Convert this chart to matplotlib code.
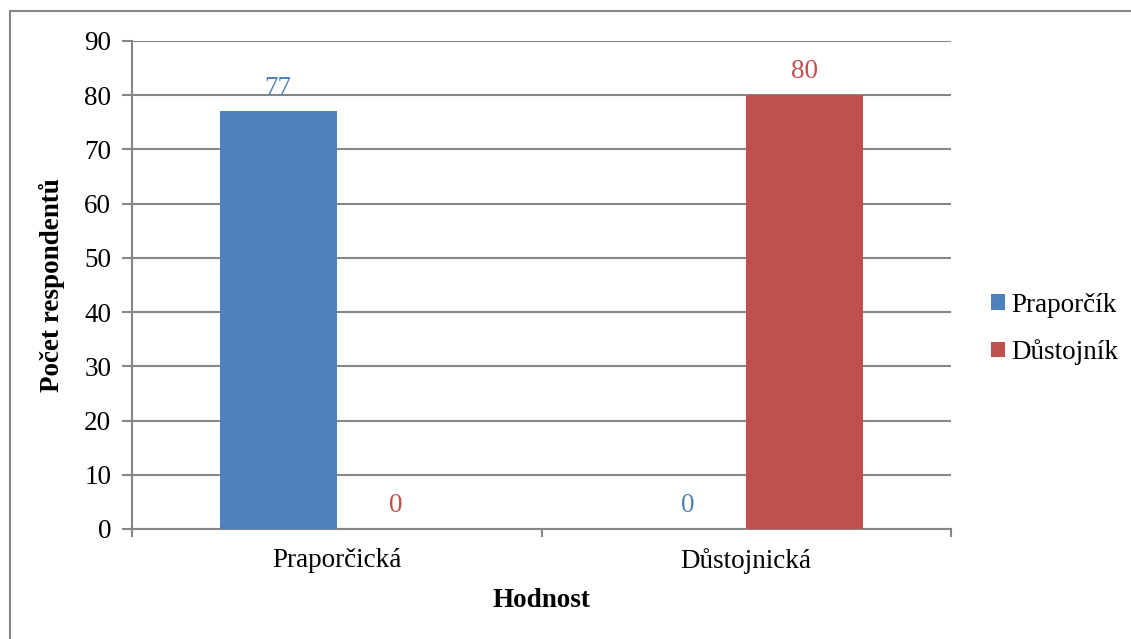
import matplotlib
matplotlib.use("Agg")
import matplotlib.pyplot as plt
from matplotlib.patches import Rectangle
import numpy as np

plt.rcParams["font.family"] = ["Liberation Serif", "DejaVu Serif"]

categories = ["Praporčická", "Důstojnická"]
series_names = ["Praporčík", "Důstojník"]
praporcik = [77, 0]
dustojnik = [0, 80]
series_values = [praporcik, dustojnik]
colors = ["#4F81BD", "#C0504D"]
grid_color = "#868686"
fs = 19.5

fig = plt.figure(figsize=(11.31, 6.39), dpi=100)
ax = fig.add_axes([132 / 1131, 1 - 529 / 639, (951 - 132) / 1131, (529 - 41) / 639])

# outer chart frame
fig.patches.append(Rectangle((10 / 1131, -0.1), 1.2, 1 - 11 / 639 + 0.1,
                             transform=fig.transFigure, fill=False,
                             edgecolor=grid_color, linewidth=1.5))

x = np.arange(len(categories))
width = 1 / 3.5
offsets = [-width / 2, width / 2]
for vals, off, col, name in zip(series_values, offsets, colors, series_names):
    bars = ax.bar(x + off, vals, width=width, color=col, label=name, zorder=3)
    for b, v in zip(bars, vals):
        ax.text(b.get_x() + b.get_width() / 2, v + 2.0, str(v), ha="center",
                va="bottom", color=col, fontsize=fs)

ax.set_xlim(-0.5, 1.5)
ax.set_ylim(0, 90)
ax.set_yticks(np.arange(0, 91, 10))
ax.yaxis.grid(True, color=grid_color, linewidth=1.5, zorder=0)
ax.set_axisbelow(True)

# category ticks sit between groups, labels centered under them
ax.set_xticks([-0.5, 0.5, 1.5])
ax.set_xticklabels([])
ax.set_xticks(x, minor=True)
ax.set_xticklabels(categories, minor=True)
ax.tick_params(axis="x", which="minor", length=0, pad=14, labelsize=fs)
ax.tick_params(axis="x", which="major", length=6, color=grid_color, width=1.5)
ax.tick_params(axis="y", length=7, color=grid_color, width=1.5, labelsize=fs, pad=8)

for side in ["top", "right"]:
    ax.spines[side].set_visible(False)
for side in ["left", "bottom"]:
    ax.spines[side].set_color(grid_color)
    ax.spines[side].set_linewidth(1.5)

ax.set_ylabel("Počet respondentů", fontsize=fs, fontweight="bold", labelpad=14)
ax.set_xlabel("Hodnost", fontsize=fs, fontweight="bold", labelpad=10)

fig.legend(loc="center left", bbox_to_anchor=(991 / 1131, 1 - 329 / 639), frameon=False,
           fontsize=fs, handlelength=0.5, handleheight=0.5, handletextpad=0.25,
           labelspacing=0.8, borderaxespad=0, borderpad=0)

fig.savefig("out.png", dpi=100, facecolor="white")
